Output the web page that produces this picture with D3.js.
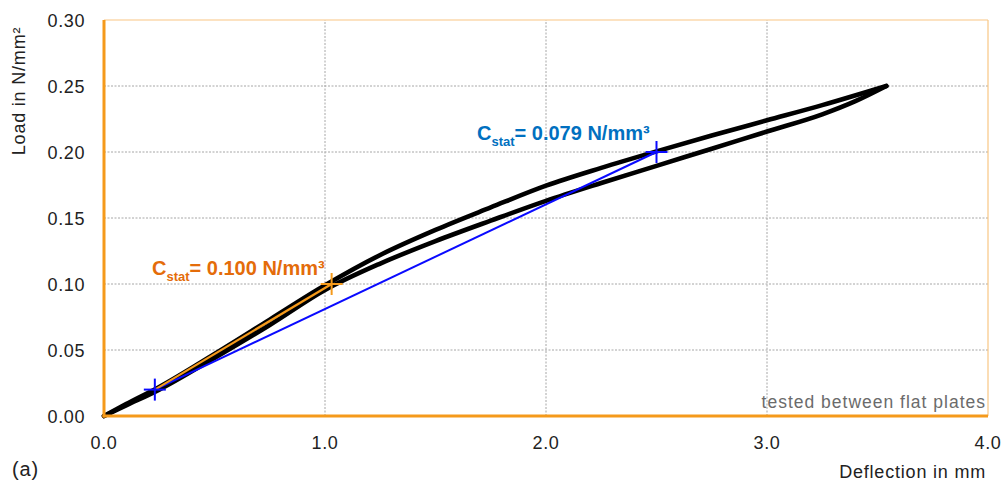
<!DOCTYPE html>
<html>
<head>
<meta charset="utf-8">
<script src="https://cdn.jsdelivr.net/npm/d3@7"></script>
<style>
  body { margin: 0; background: #fff; }
  svg { display: block; font-family: "Liberation Sans", Arial, sans-serif; }
</style>
</head>
<body>
<svg id="chart" width="1008" height="483"></svg>
<script>
// loading branch (upper in the middle range) and the return branch
const upperX = [0, 0.1, 0.25, 0.5, 0.75, 1.0, 1.25, 1.5, 1.75, 2.0, 2.25, 2.5, 2.75, 3.0, 3.25, 3.54];
const upperY = [0, 0.009, 0.022, 0.047, 0.073, 0.099, 0.122, 0.141, 0.158, 0.1745, 0.188, 0.2005, 0.2125, 0.224, 0.2355, 0.25];
const lowerX = [0, 0.1, 0.25, 0.5, 0.75, 1.0, 1.25, 1.5, 1.75, 2.0, 2.25, 2.5, 2.75, 3.0, 3.25, 3.4, 3.54];
const lowerY = [0, 0.008, 0.020, 0.044, 0.069, 0.0955, 0.1155, 0.1325, 0.148, 0.163, 0.1765, 0.1895, 0.2025, 0.2155, 0.2285, 0.2385, 0.25];

// secant stiffness lines
const blueLine = [[0.23, 0.02], [2.5, 0.2]];
const orangeLine = [[0.23, 0.02], [1.03, 0.10]];
const blueCrosses = [[0.23, 0.02], [2.5, 0.2]];
const orangeCrosses = [[1.03, 0.10]];

const xTicks = [0, 1, 2, 3, 4];
const yTicks = [0, 0.05, 0.10, 0.15, 0.20, 0.25, 0.30];

let chart = d3.select("#chart");
const margin = {left: 104, right: 20, top: 20, bottom: 67};
const W = 1008, H = 483;

const x = d3.scaleLinear().domain([0, 4]).range([margin.left, W - margin.right]);
const y = d3.scaleLinear().domain([0, 0.30]).range([H - margin.bottom, margin.top]);

const orange = "#f59a1b";

// grid
chart.append("g").selectAll("line")
  .data(yTicks.filter(d => d > 0 && d < 0.30))
  .join("line")
    .attr("x1", x(0)).attr("x2", x(4))
    .attr("y1", d => y(d)).attr("y2", d => y(d))
    .attr("stroke", "#a6a6a6").attr("stroke-width", 1)
    .attr("stroke-dasharray", "2,1.5");
chart.append("g").selectAll("line")
  .data(xTicks.filter(d => d > 0 && d < 4))
  .join("line")
    .attr("x1", d => x(d)).attr("x2", d => x(d))
    .attr("y1", y(0)).attr("y2", y(0.30))
    .attr("stroke", "#a6a6a6").attr("stroke-width", 1)
    .attr("stroke-dasharray", "2,1.5");

// top / right frame
chart.append("line").attr("x1", x(0)).attr("x2", x(4)).attr("y1", y(0.30)).attr("y2", y(0.30))
  .attr("stroke", "#f9c684").attr("stroke-width", 1.2);
chart.append("line").attr("x1", x(4)).attr("x2", x(4)).attr("y1", y(0.30)).attr("y2", y(0))
  .attr("stroke", "#f9c684").attr("stroke-width", 1.2);

// hysteresis loop, two branches meeting at the tip
const curve = d3.line().x(d => x(d[0])).y(d => y(d[1])).curve(d3.curveMonotoneX);
[[upperX, upperY], [lowerX, lowerY]].forEach(([xs, ys]) => {
  chart.append("path")
    .datum(xs.map((v, i) => [v, ys[i]]))
    .attr("d", curve)
    .attr("fill", "none")
    .attr("stroke", "#000")
    .attr("stroke-width", 4.6)
    .attr("stroke-linejoin", "round")
    .attr("stroke-linecap", "round");
});

const straight = d3.line().x(d => x(d[0])).y(d => y(d[1]));
chart.append("path").datum(blueLine).attr("d", straight)
  .attr("fill", "none").attr("stroke", "#0a0aff").attr("stroke-width", 2);
chart.append("path").datum(orangeLine).attr("d", straight)
  .attr("fill", "none").attr("stroke", orange).attr("stroke-width", 2.2);

const cross = (pts, color) => {
  const g = chart.append("g").attr("stroke", color).attr("stroke-width", 2);
  g.selectAll("line.h").data(pts).join("line").attr("class", "h")
    .attr("x1", d => x(d[0]) - 11).attr("x2", d => x(d[0]) + 11)
    .attr("y1", d => y(d[1])).attr("y2", d => y(d[1]));
  g.selectAll("line.v").data(pts).join("line").attr("class", "v")
    .attr("x1", d => x(d[0])).attr("x2", d => x(d[0]))
    .attr("y1", d => y(d[1]) - 11).attr("y2", d => y(d[1]) + 11);
};
cross(orangeCrosses, orange);
cross(blueCrosses, "#0a0aff");

// axes (orange, thick)
chart.append("line").attr("x1", x(0)).attr("x2", x(0)).attr("y1", y(0.30)).attr("y2", y(0) + 1.5)
  .attr("stroke", orange).attr("stroke-width", 3);
chart.append("line").attr("x1", x(0) - 1.5).attr("x2", x(4)).attr("y1", y(0)).attr("y2", y(0))
  .attr("stroke", orange).attr("stroke-width", 3);

// tick labels
chart.append("g").selectAll("text")
  .data(yTicks).join("text")
    .attr("x", x(0) - 19).attr("y", d => y(d) + 6.5)
    .attr("text-anchor", "end")
    .attr("font-size", 18).attr("letter-spacing", 0.6).attr("fill", "#222")
    .text(d => d.toFixed(2));
chart.append("g").selectAll("text")
  .data(xTicks).join("text")
    .attr("x", d => x(d)).attr("y", 449)
    .attr("text-anchor", "middle")
    .attr("font-size", 18).attr("letter-spacing", 0.6).attr("fill", "#222")
    .text(d => d.toFixed(1));

// axis titles
chart.append("text")
  .attr("transform", "translate(25,91) rotate(-90)")
  .attr("text-anchor", "middle")
  .attr("font-size", 18).attr("letter-spacing", 0.8).attr("fill", "#222")
  .text("Load in N/mm²");
chart.append("text")
  .attr("x", 986).attr("y", 478)
  .attr("text-anchor", "end")
  .attr("font-size", 18).attr("letter-spacing", 0.8).attr("fill", "#222")
  .text("Deflection in mm");
chart.append("text")
  .attr("x", 12).attr("y", 476)
  .attr("font-size", 20).attr("letter-spacing", 0.8).attr("fill", "#222")
  .text("(a)");
chart.append("text")
  .attr("x", 986).attr("y", 408)
  .attr("text-anchor", "end")
  .attr("font-size", 17.5).attr("letter-spacing", 1).attr("fill", "#6b6b6b")
  .text("tested between flat plates");

// stiffness annotations
const annot = (tx, ty, value, color) => {
  const t = chart.append("text").attr("x", tx).attr("y", ty)
    .attr("font-size", 20).attr("font-weight", "bold").attr("fill", color);
  t.append("tspan").text("C");
  t.append("tspan").attr("font-size", 13).attr("dy", 6).text("stat");
  t.append("tspan").attr("dy", -6).text(`= ${value} N/mm³`);
};
annot(152, 275, "0.100", "#e46c0a");
annot(477, 140, "0.079", "#0070c0");
</script>
</body>
</html>
